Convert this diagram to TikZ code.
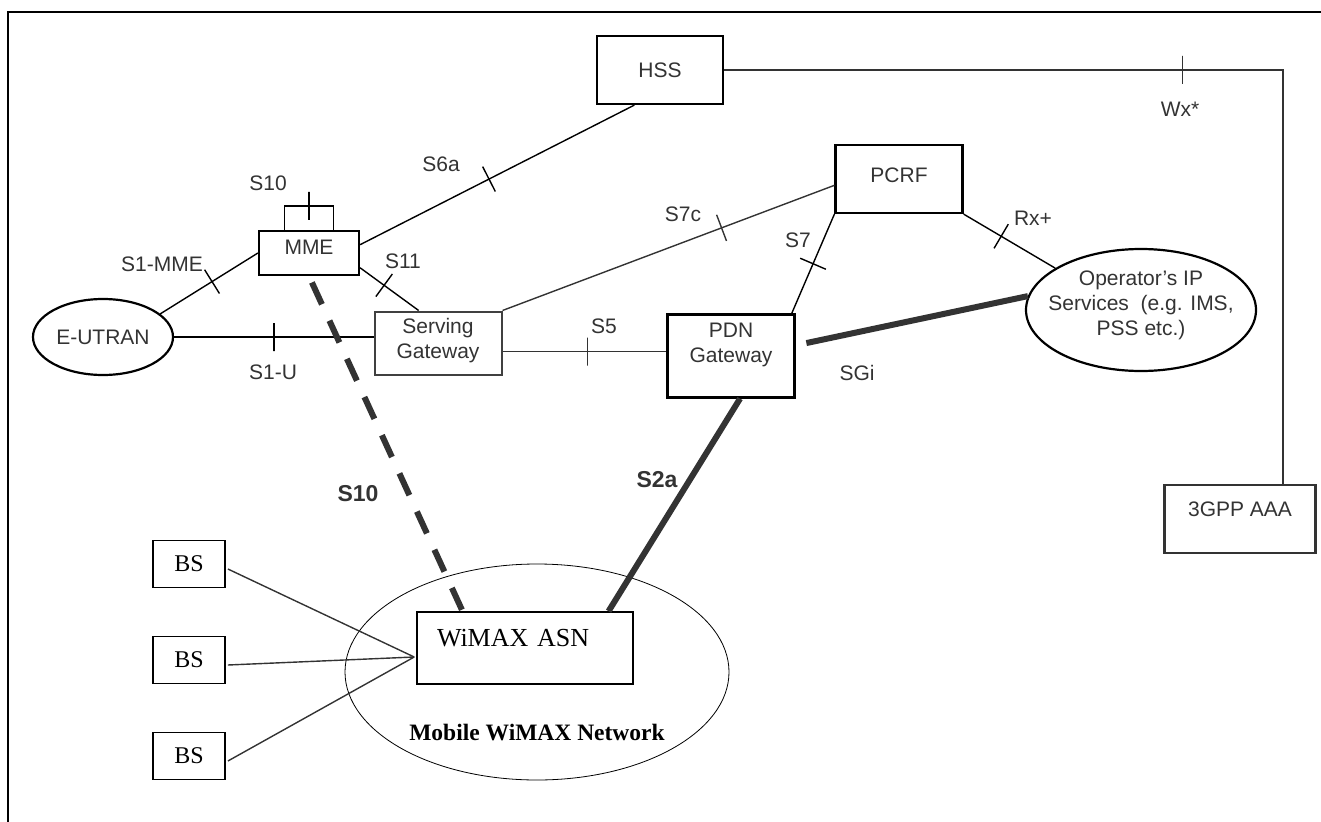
\documentclass[tikz,border=0pt]{standalone}
\usepackage{fontspec}
\setmainfont{Liberation Serif}
\setsansfont{Liberation Sans}
\usetikzlibrary{shapes.geometric,calc}

\tikzset{
	net/.style={draw,line width=2.2pt,inner sep=0pt,align=center,text=black!80,
		font=\sffamily\fontsize{21}{25}\selectfont,text height=15pt,text depth=0pt},
	bubble/.style={net,ellipse},
	bs/.style={draw,line width=1.8pt,minimum width=72pt,minimum height=47pt,inner sep=0pt,
		font=\fontsize{24}{28}\selectfont},
	wire/.style={line width=1.4pt},
	greywire/.style={line width=1.4pt,draw=black!80},
	fat/.style={line width=6pt,draw=black!80},
	tickmark/.style={draw,sloped,rectangle,minimum height=28pt,minimum width=0pt,inner sep=0pt,line width=1.4pt},
	iface/.style={text=black!80,font=\sffamily\fontsize{21}{25}\selectfont},
	bigiface/.style={text=black!80,font=\sffamily\bfseries\fontsize{23}{27}\selectfont}
}

\begin{document}
\begin{tikzpicture}[x=1pt,y=-1pt]
	\useasboundingbox (0,0) rectangle (1321,821);
	\clip (0,0) rectangle (1321,821);
	\draw[line width=2pt] (1330,12) -- (8,12) -- (8,830);

	%EPC nodes
	\node[net,minimum width=126pt,minimum height=68pt] (hss) at (660,70) {HSS};
	\node[net,minimum width=127pt,minimum height=68pt,text depth=8pt] (pcrf) at (899,179) {PCRF};
	\node[net,minimum width=100pt,minimum height=44pt,text depth=12pt] (mme) at (309,253) {MME};
	\node[net,line width=2pt,draw=black!75,minimum width=127pt,minimum height=63pt,text height=40pt,text depth=10pt] (sgw) at (438,343) {Serving\\Gateway};
	\node[net,minimum width=127pt,minimum height=83pt,text height=40pt,text depth=28pt] (pdn) at (731,356) {PDN\\Gateway};
	\node[net,draw=black!80,minimum width=151pt,minimum height=68pt,text depth=20pt] (aaa) at (1240,519) {3GPP AAA};
	\node[bubble,minimum width=140pt,minimum height=76pt] (eutran) at (103,337) {E-UTRAN};
	\node[bubble,minimum width=230pt,minimum height=122pt,inner xsep=-25pt,text height=65pt,text depth=14pt] (ops) at (1141,310)
		{Operator’s IP\\Services\ \ (e.g. IMS,\\PSS etc.)};

	%WiMAX side
	\node[ellipse,draw,line width=0.8pt,minimum width=384pt,minimum height=216pt,inner sep=0pt,
		font=\bfseries\fontsize{23.5}{28}\selectfont,text height=137pt,text depth=0pt] (wimaxnet) at (537,672) {Mobile WiMAX Network};
	\node[draw,line width=1.6pt,minimum height=72pt,text width=176pt,inner xsep=20pt,inner ysep=0pt,align=left,
		font=\fontsize{26}{30}\selectfont,text height=17pt,text depth=20pt] (asn) at (525,648) {WiMAX ASN};
	\foreach \i/\y in {1/564,2/660,3/756}
	\node[bs] (bs\i) at (189,\y) {BS};
	\coordinate (hub) at ($(asn.west)+(-2,9)$);
	\foreach \i in {1,2,3}
	\draw[greywire] ($(bs\i.east)+(2,5)$) -- (hub);

	%reference points
	\draw[wire] (eutran.22) -- node[tickmark,pos=.53]{} (mme.west);
	\draw[wire] (eutran.east) -- node[tickmark]{} (eutran.east -| sgw.west);
	\draw[wire] ($(mme.south east)!.36!(mme.east)$) -- node[tickmark,pos=.41]{} ($(sgw.north west)!.35!(sgw.north east)$);
	\draw[wire] ($(mme.east)!.36!(mme.north east)$) -- node[tickmark,pos=.47]{} ($(hss.south west)!.3!(hss.south east)$);
	\draw[wire] ($(mme.north west)!.26!(mme.north east)$) -- ++(0,-24) -| node[tickmark,pos=.25]{} ($(mme.north west)!.74!(mme.north east)$);
	\draw[greywire] (sgw.north east) -- node[tickmark,pos=.66]{} ($(pcrf.west)!.18!(pcrf.south west)$);
	\draw[wire] (pcrf.south west) -- node[tickmark]{} ($(pdn.north west)!.97!(pdn.north east)$);
	\draw[wire] (pcrf.south east) -- node[tickmark,pos=.41]{} (ops.154);
	\coordinate (s5end) at ($(pdn.west)!.1!(pdn.north west)$);
	\draw[greywire] (sgw.east |- s5end) -- node[tickmark,pos=.52]{} (s5end);
	\draw[greywire] (hss.east) -| node[tickmark,pos=.41]{} ($(aaa.north west)!.78!(aaa.north east)$);
	%
	\draw[fat,shorten <=11pt] ($(pdn.east)!.25!(pdn.north east)$) -- (ops.173);
	\draw[fat] ($(pdn.south west)!.57!(pdn.south east)$) -- ($(asn.north west)!.884!(asn.north east)$);
	\draw[fat,dash pattern=on 24pt off 18pt,dash phase=35pt] (mme.south) -- ($(asn.north west)!.213!(asn.north east)$);

	%labels
	\node[iface] (l-s10) at (268,183) {S10};
	\node[iface] (l-s1mme) at (162,264) {S1-MME};
	\node[iface] (l-s6a) at (441,164) {S6a};
	\node[iface] (l-s11) at (403,261) {S11};
	\node[iface] (l-s1u) at (273,372) {S1-U};
	\node[iface] (l-s5) at (604,326) {S5};
	\node[iface] (l-s7c) at (683,214) {S7c};
	\node[iface] (l-s7) at (798,240) {S7};
	\node[iface] (l-rx) at (1033,218) {Rx+};
	\node[iface] (l-sgi) at (857,373) {SGi};
	\node[iface] (l-wx) at (1180,109) {Wx*};
	\node[bigiface] (l-s10w) at (358,494) {S10};
	\node[bigiface] (l-s2a) at (657,480) {S2a};
\end{tikzpicture}
\end{document}
